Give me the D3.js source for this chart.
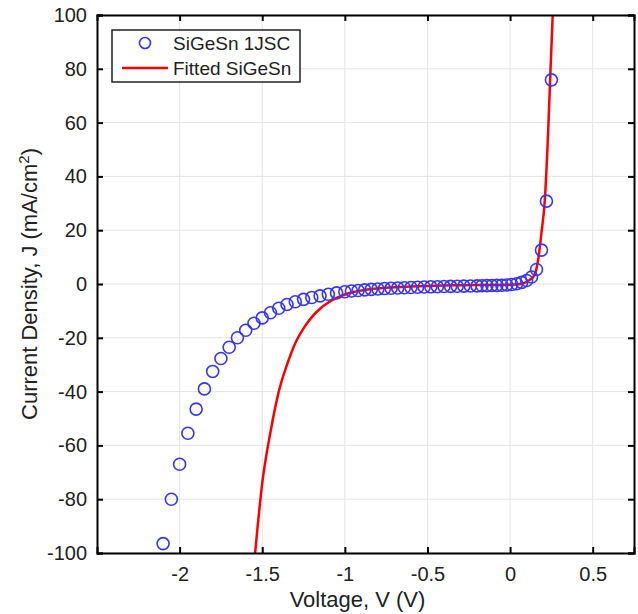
<!DOCTYPE html>
<html>
<head>
<meta charset="utf-8">
<script src="https://cdn.jsdelivr.net/npm/d3@7"></script>
<style>
  html, body { margin: 0; padding: 0; background: #fff; }
  svg { display: block; font-family: "Liberation Sans", Arial, Helvetica, sans-serif; }
</style>
</head>
<body>
<div id="chart"></div>
<script>
// ---- data ----
const measuredV = [-2.10, -2.05, -2.00, -1.95, -1.90, -1.85, -1.80, -1.75, -1.70, -1.65,
  -1.60, -1.55, -1.50, -1.45, -1.40, -1.35, -1.30, -1.25, -1.20, -1.15,
  -1.10, -1.05, -1.00, -0.96, -0.92, -0.88, -0.84, -0.80, -0.76, -0.72,
  -0.68, -0.64, -0.60, -0.56, -0.52, -0.48, -0.44, -0.40, -0.36, -0.32,
  -0.28, -0.24, -0.20, -0.17, -0.14, -0.11, -0.08, -0.05, -0.02, 0.01,
  0.04, 0.07, 0.10, 0.13, 0.16, 0.19, 0.22, 0.25];
const measuredJ = [-96.5, -80.0, -67.0, -55.5, -46.5, -39.0, -32.5, -27.7, -23.5, -20.0,
  -17.2, -14.6, -12.6, -10.7, -9.0, -7.6, -6.6, -5.7, -5.0, -4.4,
  -3.8, -3.3, -2.9, -2.6, -2.4, -2.2, -2.0, -1.85, -1.7, -1.6,
  -1.5, -1.4, -1.3, -1.2, -1.1, -1.05, -1.0, -0.95, -0.9, -0.85,
  -0.8, -0.75, -0.7, -0.65, -0.6, -0.55, -0.5, -0.45, -0.35, -0.2,
  0.1, 0.6, 1.3, 2.6, 5.4, 12.6, 30.8, 75.9];

const fitV = [-1.543, -1.50, -1.45, -1.40, -1.35, -1.30, -1.25, -1.20, -1.15, -1.10,
  -1.05, -1.00, -0.95, -0.90, -0.85, -0.80, -0.70, -0.60, -0.50, -0.40, -0.30,
  -0.20, -0.10, 0.00, 0.05, 0.08, 0.10, 0.12, 0.14, 0.155, 0.17,
  0.19, 0.21, 0.23, 0.245, 0.258];
const fitJ = [-100, -74, -55, -40, -30, -22, -16.5, -12.3, -9.2, -6.9,
  -5.2, -3.9, -3.0, -2.4, -1.95, -1.65, -1.2, -0.9, -0.7, -0.55, -0.45,
  -0.4, -0.35, -0.3, -0.1, 0.3, 0.8, 1.6, 2.6, 4.5, 9,
  19, 31, 56, 80, 100];

const xTicks = [-2, -1.5, -1, -0.5, 0, 0.5];
const yTicks = [-100, -80, -60, -40, -20, 0, 20, 40, 60, 80, 100];
const xDomain = [-2.5, 0.75];
const yDomain = [-100, 100];
const legendLabels = ["SiGeSn 1JSC", "Fitted SiGeSn"];

// ---- layout ----
const W = 638, H = 614;
const m = { left: 97, right: 4, top: 15, bottom: 61 };
const pw = W - m.left - m.right, ph = H - m.top - m.bottom;

const svg = d3.select("#chart").append("svg").attr("width", W).attr("height", H);
const g = svg.append("g").attr("transform", `translate(${m.left},${m.top})`);

const x = d3.scaleLinear().domain(xDomain).range([0, pw]);
const y = d3.scaleLinear().domain(yDomain).range([ph, 0]);

// grid
g.append("g").selectAll("line").data(xTicks).join("line")
  .attr("x1", d => x(d)).attr("x2", d => x(d)).attr("y1", 0).attr("y2", ph)
  .attr("stroke", "#e4e4e4").attr("stroke-width", 1);
g.append("g").selectAll("line").data(yTicks).join("line")
  .attr("y1", d => y(d)).attr("y2", d => y(d)).attr("x1", 0).attr("x2", pw)
  .attr("stroke", "#e4e4e4").attr("stroke-width", 1);

// clip
svg.append("defs").append("clipPath").attr("id", "clip")
  .append("rect").attr("width", pw).attr("height", ph);

const plot = g.append("g").attr("clip-path", "url(#clip)");

// fitted line
const line = d3.line().x(d => x(d[0])).y(d => y(d[1])).curve(d3.curveMonotoneX);
plot.append("path").datum(fitV.map((v, i) => [v, fitJ[i]]))
  .attr("d", line).attr("fill", "none").attr("stroke", "#ff0000").attr("stroke-width", 2.5);

// measured circles
plot.append("g").selectAll("circle").data(measuredV.map((v, i) => [v, measuredJ[i]])).join("circle")
  .attr("cx", d => x(d[0])).attr("cy", d => y(d[1])).attr("r", 6)
  .attr("fill", "none").attr("stroke", "#3535ff").attr("stroke-width", 1.6);

// axes (inward ticks, box)
const fontTick = 20;
const axB = g.append("g").attr("transform", `translate(0,${ph})`)
  .call(d3.axisBottom(x).tickValues(xTicks).tickSize(-6).tickPadding(14).tickFormat(d3.format("")));
const axT = g.append("g")
  .call(d3.axisTop(x).tickValues(xTicks).tickSize(-6).tickFormat(""));
const axL = g.append("g")
  .call(d3.axisLeft(y).tickValues(yTicks).tickSize(-6).tickPadding(10).tickFormat(d3.format("")));
const axR = g.append("g").attr("transform", `translate(${pw},0)`)
  .call(d3.axisRight(y).tickValues(yTicks).tickSize(-6).tickFormat(""));
[axB, axT, axL, axR].forEach(a => {
  a.select(".domain").attr("stroke", "#000").attr("stroke-width", 2);
  a.selectAll(".tick line").attr("stroke", "#000").attr("stroke-width", 2);
  a.selectAll("text").attr("font-size", fontTick).attr("fill", "#222")
    .attr("font-family", "Liberation Sans, Arial, sans-serif");
});
axB.selectAll("text").text(d => d < 0 ? "-" + Math.abs(d) : d);
axL.selectAll("text").text(d => d < 0 ? "-" + Math.abs(d) : d);

// axis labels
svg.append("text").attr("x", m.left + pw / 2 - 8).attr("y", 607)
  .attr("text-anchor", "middle").attr("font-size", 22).attr("fill", "#222")
  .text("Voltage, V (V)");
const yl = svg.append("text").attr("transform", `translate(37,${m.top + ph / 2}) rotate(-90)`)
  .attr("text-anchor", "middle").attr("font-size", 22).attr("fill", "#222");
yl.append("tspan").text("Current Density, J (mA/cm");
yl.append("tspan").attr("dy", -8).attr("font-size", 15).text("2");
yl.append("tspan").attr("dy", 8).text(")");

// legend
const lg = svg.append("g");
lg.append("rect").attr("x", 112).attr("y", 30).attr("width", 188).attr("height", 52)
  .attr("fill", "#fff").attr("stroke", "#222").attr("stroke-width", 1.5);
lg.append("circle").attr("cx", 145).attr("cy", 43).attr("r", 5.5)
  .attr("fill", "none").attr("stroke", "#3535ff").attr("stroke-width", 1.6);
lg.append("line").attr("x1", 122).attr("x2", 168).attr("y1", 68).attr("y2", 68)
  .attr("stroke", "#ff0000").attr("stroke-width", 2.5);
lg.selectAll("text.lt").data(legendLabels).join("text").attr("class", "lt")
  .attr("x", 173).attr("y", (d, i) => 50 + i * 25)
  .attr("font-size", 19).attr("fill", "#222").text(d => d);
</script>
</body>
</html>
